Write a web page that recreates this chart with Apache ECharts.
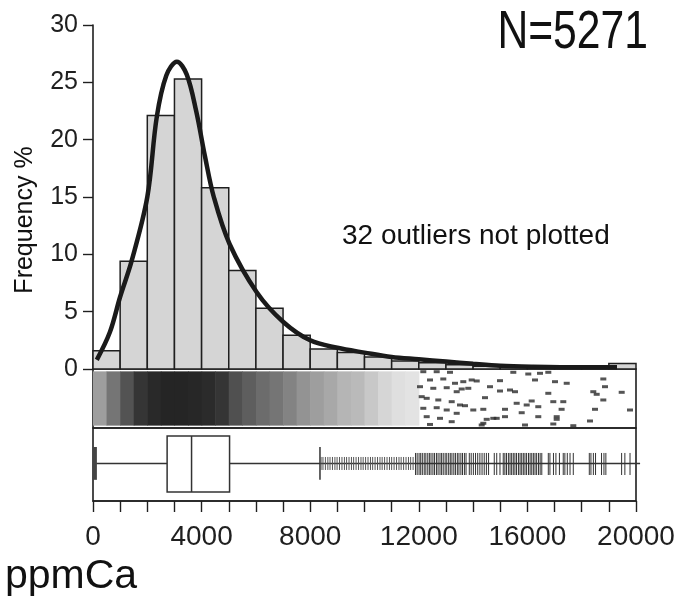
<!DOCTYPE html>
<html>
<head>
<meta charset="utf-8">
<script src="https://cdn.jsdelivr.net/npm/echarts@6/dist/echarts.min.js"></script>
<style>
html,body{margin:0;padding:0;background:#fff;}
#c{width:675px;height:600px;}
</style>
</head>
<body>
<div id="c"></div>
<script>
// ---------- data ----------
const binStart = [0,1000,2000,3000,4000,5000,6000,7000,8000,9000,10000,11000,12000,13000,14000,15000,16000,17000,18000,19000];
const binWidth = 1000;
const freqPct = [1.6,9.4,22.1,25.3,15.8,8.6,5.3,2.95,1.75,1.43,1.05,0.7,0.55,0.38,0.25,0.2,0.15,0.12,0.1,0.47];

const curveX = [140,620,1000,1420,2000,2350,2700,3090,3450,3800,4120,4450,5030,6030,7010,8000,9000,10000,11000,12000,13000,14000,15000,16200,18000,19300];
const curveY = [0.8,3.2,6.3,9.4,15.0,22.0,25.6,26.8,25.7,22.5,18.6,15.0,10.9,6.7,4.1,2.5,1.85,1.43,1.05,0.85,0.65,0.45,0.28,0.2,0.15,0.15];

const stripColStart = [0,500,1000,1500,2000,2500,3000,3500,4000,4500,5000,5500,6000,6500,7000,7500,8000,8500,9000,9500,10000,10500,11000,11500];
const stripColWidth = 500;
const stripDensity = [0.42,0.6,0.75,0.88,0.93,0.95,0.95,0.94,0.92,0.88,0.76,0.7,0.64,0.6,0.54,0.47,0.42,0.38,0.32,0.3,0.24,0.18,0.14,0.12];

const dashX = [12166,12659,13149,12413,12902,12044,12534,13028,12107,12291,12718,13212,12166,12659,13028,12291,12781,13212,12413,
  15481,16033,16464,16770,18796,17448,17017,16280,14991,13948,14133,13639,13333,14622,18858,13580,13823,14991,15359,15543,13396,18427,18552,19473,16770,14438,18796,16158,15605,15974,16401,16954,17322,13517,13702,14376,14007,15175,17260,18490,19779,15790,13396,15175,14869,14501,16401,17079,17079,18306,14376,14317,15912,16954,17691,14744];
const dashY = [0.954,0.954,0.944,0.814,0.831,0.70,0.673,0.683,0.531,0.503,0.475,0.446,0.334,0.344,0.305,0.192,0.164,0.107,0.06,
  0.944,0.915,0.927,0.944,0.831,0.758,0.785,0.814,0.802,0.814,0.797,0.785,0.758,0.70,0.70,0.661,0.673,0.627,0.644,0.615,0.615,0.615,0.571,0.605,0.588,0.514,0.475,0.458,0.419,0.39,0.361,0.446,0.446,0.39,0.378,0.317,0.305,0.317,0.317,0.317,0.305,0.259,0.249,0.192,0.164,0.147,0.192,0.192,0.147,0.119,0.08,0.051,0.051,0.068,0.039,0.164];

// min, Q1, median, Q3, upper whisker
const boxStats = [70,2730,3630,5030,8360];
const boxLineEnd = 20150;
const nearOutliers = [8400,8470,8560,8650,8730,8820,8910,8990,9080,9170,9260,9340,9430,9520,9600,9690,9780,9870,9950,10040,10130,10220,10300,10390,10480,10570,10650,10740,10830,10920,11000,11090,11180,11270,11350,11440,11530,11620,11700,11790];
const farOutliers = [11880,11940,12010,12070,12130,12200,12260,12330,12390,12450,12520,12580,12650,12710,12780,12840,12900,12970,13030,13100,13160,13220,13290,13350,13420,13480,13550,13610,13680,13740,
  13860,13930,14010,14090,14170,14250,14330,14410,14490,14570,
  14780,14870,14990,
  15110,15170,15230,15300,15360,15420,
  15480,15540,15600,15670,15730,15790,
  15850,15910,15970,16040,16100,16160,
  16220,16280,16340,16410,16470,16530,
  16770,16830,16960,17050,17180,
  17320,17380,17470,17570,17690,
  18280,18340,18430,18510,
  18730,18820,18890,
  19470,19590,19780];

const xTickLabels = [0,4000,8000,12000,16000,20000];
const yTickLabels = [0,5,10,15,20,25,30];

const titleText = 'N=5271';
const noteText = '32 outliers not plotted';
const xName = 'ppmCa';
const yName = 'Frequency %';

// ---------- chart ----------
const REG = "'Liberation Sans', Arial, sans-serif";
const INK = '#1f1f1f';

const chart = echarts.init(document.getElementById('c'), null, {renderer: 'canvas'});

const X0 = 93, XW = 543;
const xBase = (i, show) => ({
  type: 'value', gridIndex: i, min: 0, max: 20000, interval: 4000,
  show: true,
  axisLine: {show: show, lineStyle: {color: INK, width: 1.6}},
  axisTick: {show: show, length: 11, lineStyle: {color: INK, width: 1.4}},
  minorTick: {show: show, splitNumber: 4, length: 11, lineStyle: {color: INK, width: 1.4}},
  axisLabel: {show: show, fontFamily: REG, fontSize: 28, color: INK, margin: 22,
    formatter: v => (xTickLabels.indexOf(v) >= 0 ? String(v) : '')},
  splitLine: {show: false}, minorSplitLine: {show: false}
});

const gridCommon = {left: X0, width: XW, containLabel: false, outerBoundsMode: 'none'};
const option = {
  animation: false,
  backgroundColor: '#ffffff',
  grid: [
    Object.assign({top: 25, height: 344}, gridCommon),
    Object.assign({top: 369, height: 59, show: true, borderColor: INK, borderWidth: 1.6}, gridCommon),
    Object.assign({top: 428, height: 73, show: true, borderColor: INK, borderWidth: 1.6}, gridCommon)
  ],
  xAxis: [xBase(0, false), xBase(1, false), xBase(2, true)],
  yAxis: [
    {type: 'value', gridIndex: 0, min: 0, max: 30, interval: 5,
      axisLine: {show: true, lineStyle: {color: INK, width: 1.6}},
      axisTick: {show: true, length: 10, lineStyle: {color: INK, width: 1.4}},
      axisLabel: {fontFamily: REG, fontSize: 25, color: INK, margin: 15,
        formatter: v => (yTickLabels.indexOf(v) >= 0 ? String(v) : '')},
      splitLine: {show: false}},
    {type: 'value', gridIndex: 1, min: 0, max: 1, show: false},
    {type: 'value', gridIndex: 2, min: 0, max: 1, show: false}
  ],
  series: [
    {
      type: 'custom', xAxisIndex: 0, yAxisIndex: 0, clip: false, z: 2,
      data: binStart.map((s, i) => [s, s + binWidth, freqPct[i]]),
      encode: {x: [0, 1], y: 2},
      renderItem: (params, api) => {
        const a = api.coord([api.value(0), api.value(2)]);
        const b = api.coord([api.value(1), 0]);
        return {type: 'rect', shape: {x: a[0], y: a[1], width: b[0] - a[0], height: b[1] - a[1]},
          style: {fill: '#d5d5d5', stroke: INK, lineWidth: 1.5}};
      }
    },
    {
      type: 'line', xAxisIndex: 0, yAxisIndex: 0, z: 5,
      data: curveX.map((x, i) => [x, curveY[i]]),
      smooth: 0.35, showSymbol: false, symbol: 'none',
      lineStyle: {color: '#1a1a1a', width: 4.5}
    },
    {
      type: 'custom', xAxisIndex: 1, yAxisIndex: 1, z: 2,
      data: stripColStart.map((s, i) => [s, s + stripColWidth, stripDensity[i]]),
      encode: {x: [0, 1]},
      renderItem: (params, api) => {
        const a = api.coord([api.value(0), 0.96]);
        const b = api.coord([api.value(1), 0.04]);
        const d = api.value(2);
        const g = Math.round(255 - d * 230);
        return {type: 'rect', shape: {x: a[0], y: a[1], width: b[0] - a[0] + 0.6, height: b[1] - a[1]},
          style: {fill: 'rgb(' + g + ',' + g + ',' + g + ')'}};
      }
    },
    {
      type: 'scatter', xAxisIndex: 1, yAxisIndex: 1, z: 3,
      data: dashX.map((x, i) => [x, dashY[i]]),
      symbol: 'rect', symbolSize: [6, 3],
      itemStyle: {color: '#2a2a2a'}
    },
    {
      type: 'custom', xAxisIndex: 2, yAxisIndex: 2, z: 3, clip: false,
      data: [[boxStats[0], boxStats[1], boxStats[2], boxStats[3], boxStats[4], boxLineEnd]],
      encode: {x: [0, 1, 2, 3, 4]},
      renderItem: (params, api) => {
        const mn = api.value(0), q1 = api.value(1), md = api.value(2), q3 = api.value(3), hi = api.value(4), end = api.value(5);
        const yc = 0.514, yb = 0.123, yt = 0.89, cb = 0.29, ct = 0.74;
        const P = (x, y) => api.coord([x, y]);
        const ln = (p, q, w, c) => ({type: 'line', shape: {x1: p[0], y1: p[1], x2: q[0], y2: q[1]}, style: {stroke: c || '#333', lineWidth: w}});
        const bTL = P(q1, yt), bBR = P(q3, yb);
        return {type: 'group', children: [
          ln(P(mn, yc), P(q1, yc), 1.3),
          ln(P(q3, yc), P(end, yc), 1.3),
          ln(P(mn, cb), P(mn, ct), 4, '#444'),
          ln(P(hi, cb), P(hi, ct), 1.5),
          {type: 'rect', shape: {x: bTL[0], y: bTL[1], width: bBR[0] - bTL[0], height: bBR[1] - bTL[1]},
            style: {fill: '#fff', stroke: '#333', lineWidth: 1.5}},
          ln(P(md, yb), P(md, yt), 1.5)
        ]};
      }
    },
    {
      type: 'custom', xAxisIndex: 2, yAxisIndex: 2, z: 4, clip: false,
      data: nearOutliers.map(v => [v, 0]).concat(farOutliers.map(v => [v, 1])),
      encode: {x: 0},
      renderItem: (params, api) => {
        const v = api.value(0), far = api.value(1) === 1;
        const a = api.coord([v, far ? 0.356 : 0.425]);
        const b = api.coord([v, far ? 0.658 : 0.603]);
        return {type: 'line', shape: {x1: a[0], y1: a[1], x2: b[0], y2: b[1]},
          style: {stroke: far ? '#333' : '#555', lineWidth: 1}};
      }
    }
  ],
  graphic: [
    {type: 'text', x: 648, y: 33, scaleX: 0.79, style: {text: titleText, font: '54px ' + REG, fill: '#111', align: 'right', verticalAlign: 'middle'}},
    {type: 'text', x: 342, y: 236, style: {text: noteText, font: '28px ' + REG, fill: '#111', align: 'left', verticalAlign: 'middle'}},
    {type: 'text', x: 5, y: 577, style: {text: xName, font: '41px ' + REG, fill: '#111', align: 'left', verticalAlign: 'middle'}},
    {type: 'text', x: 25, y: 220, rotation: Math.PI / 2, style: {text: yName, font: '25px ' + REG, fill: '#111', align: 'center', verticalAlign: 'middle'}}
  ]
};
chart.setOption(option);
</script>
</body>
</html>
